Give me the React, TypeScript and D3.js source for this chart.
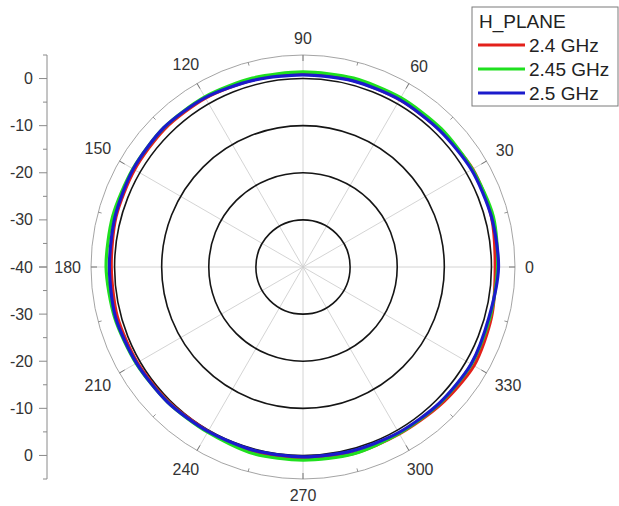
import React from "react";
import * as d3 from "d3";

const angles = [0, 15, 30, 45, 60, 75, 90, 105, 120, 135, 150, 165, 180, 195, 210, 225, 240, 255, 270, 285, 300, 315, 330, 345];
const red24 = [0.8, 1.4, 1.6, 1.1, 1.0, 1.0, 1.0, 1.1, 1.4, 1.5, 1.3, 1.1, 0.7, 0.8, 0.6, 0.4, 0.3, 0.8, 0.6, 1.0, 0.9, 1.3, 1.9, 1.4];
const green245 = [1.3, 1.8, 1.5, 1.5, 1.5, 1.5, 1.4, 1.5, 1.7, 1.8, 1.7, 1.8, 1.8, 1.4, 0.9, 0.6, 0.5, 1.0, 1.0, 1.1, 0.8, 1.0, 1.3, 1.1];
const blue25 = [1.5, 1.4, 1.3, 1.0, 1.0, 0.9, 0.8, 1.0, 1.5, 1.8, 1.6, 1.3, 1.1, 1.2, 0.8, 0.6, 0.3, 0.3, 0.3, 0.4, 0.6, 0.9, 1.2, 0.9];

const seriesNames = ["2.4 GHz", "2.45 GHz", "2.5 GHz"];
const seriesColors = ["#e3201b", "#1fe01f", "#1b1bcc"];
const seriesData = [red24, green245, blue25];

const ringValues = [-30, -20, -10, 0];
const angleTicks = [0, 30, 60, 90, 120, 150, 180, 210, 240, 270, 300, 330];
const minorAngleTicks = [15, 45, 75, 105, 135, 165, 195, 225, 255, 285, 315, 345];
const radialMajor = [0, -10, -20, -30, -40];
const radialMinor = [5, -5, -15, -25, -35];
const legendTitle = "H_PLANE";

const W = 619, H = 506;
const cx = 303, cy = 267;
const rMax = 212;
const axisX = 47;
const font = "Arial, 'Liberation Sans', sans-serif";

export default function App() {
  const r = d3.scaleLinear().domain([-40, 5]).range([0, rMax]);
  const toXY = (deg: number, v: number) => {
    const t = (deg * Math.PI) / 180;
    return [cx + r(v) * Math.cos(t), cy - r(v) * Math.sin(t)];
  };
  const line = d3
    .lineRadial<number>()
    .angle((_, i) => Math.PI / 2 - (angles[i] * Math.PI) / 180)
    .radius((d) => r(d))
    .curve(d3.curveCardinalClosed.tension(0.2));

  return (
    <svg width={W} height={H} style={{ position: "absolute", left: 0, top: 0, background: "#fff" }} fontFamily={font}>
      {angleTicks.map((a) => {
        const [x, y] = toXY(a, 5);
        return <line key={"s" + a} x1={cx} y1={cy} x2={x} y2={y} stroke="#cfcfcf" strokeWidth={0.9} />;
      })}
      <circle cx={cx} cy={cy} r={rMax} fill="none" stroke="#9a9a9a" strokeWidth={0.9} />
      {angleTicks.map((a) => {
        const t = (a * Math.PI) / 180;
        return (
          <line key={"mt" + a} x1={cx + rMax * Math.cos(t)} y1={cy - rMax * Math.sin(t)} x2={cx + (rMax - 6) * Math.cos(t)} y2={cy - (rMax - 6) * Math.sin(t)} stroke="#777" strokeWidth={1} />
        );
      })}
      {minorAngleTicks.map((a) => {
        const t = (a * Math.PI) / 180;
        return (
          <line key={"nt" + a} x1={cx + rMax * Math.cos(t)} y1={cy - rMax * Math.sin(t)} x2={cx + (rMax - 3.5) * Math.cos(t)} y2={cy - (rMax - 3.5) * Math.sin(t)} stroke="#888" strokeWidth={0.9} />
        );
      })}
      {ringValues.map((v) => (
        <circle key={"r" + v} cx={cx} cy={cy} r={r(v)} fill="none" stroke="#151515" strokeWidth={1.6} />
      ))}
      {angleTicks.map((a) => {
        const t = (a * Math.PI) / 180;
        const label = String(a);
        const w = label.length * 8.9;
        const h = 13;
        const rr = rMax + 10 + Math.abs(Math.cos(t)) * (w / 2) + Math.abs(Math.sin(t)) * (h / 2);
        return (
          <text key={"al" + a} x={cx + rr * Math.cos(t)} y={cy - rr * Math.sin(t)} textAnchor="middle" dominantBaseline="central" fontSize={16} fill="#333">
            {label}
          </text>
        );
      })}
      <line x1={axisX} y1={cy - rMax} x2={axisX} y2={cy + rMax} stroke="#8a8a8a" strokeWidth={1} />
      {[-1, 1].map((s) =>
        radialMajor.map((v) => (
          <g key={"rm" + s + v}>
            <line x1={axisX - 8} x2={axisX} y1={cy + s * r(v)} y2={cy + s * r(v)} stroke="#8a8a8a" strokeWidth={1} />
            {(s === -1 || v !== -40) && (
              <text x={axisX - 14} y={cy + s * r(v)} textAnchor="end" dominantBaseline="central" fontSize={16} fill="#333">
                {String(v)}
              </text>
            )}
          </g>
        ))
      )}
      {[-1, 1].map((s) =>
        radialMinor.map((v) => (
          <line key={"rn" + s + v} x1={axisX - 4} x2={axisX} y1={cy + s * r(v)} y2={cy + s * r(v)} stroke="#8a8a8a" strokeWidth={1} />
        ))
      )}
      {seriesData.map((d, i) => (
        <path key={"p" + i} d={line(d) || ""} transform={`translate(${cx},${cy})`} fill="none" stroke={seriesColors[i]} strokeWidth={3.2} strokeLinejoin="round" />
      ))}
      <rect x={472} y={7} width={146} height={99} fill="#fff" stroke="#7a7a7a" strokeWidth={1} />
      <text x={479} y={28} fontSize={19} fill="#222">{legendTitle}</text>
      {seriesNames.map((n, i) => (
        <g key={"lg" + i}>
          <line x1={478} x2={525} y1={45 + i * 24} y2={45 + i * 24} stroke={seriesColors[i]} strokeWidth={3.2} />
          <text x={529} y={52 + i * 24} fontSize={19} fill="#222">{n}</text>
        </g>
      ))}
    </svg>
  );
}
